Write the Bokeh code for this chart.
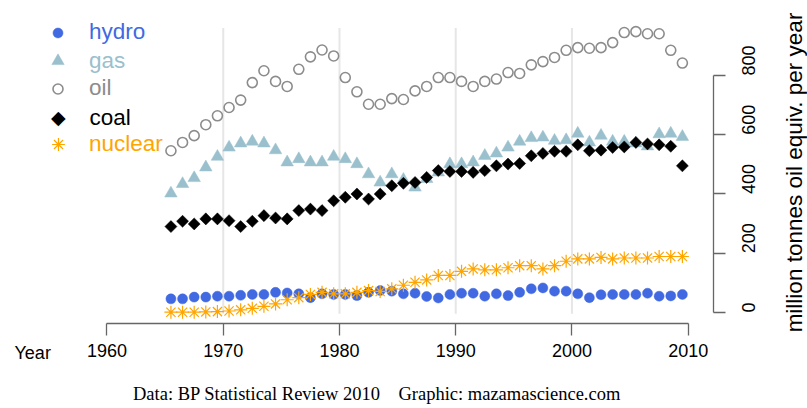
from math import pi
from bokeh.plotting import figure
from bokeh.models import Range1d, FixedTicker, Legend, LegendItem, Label, LinearAxis
from bokeh.embed import file_html
from bokeh.resources import INLINE

years = list(range(1965, 2010))
hydro = [46, 46, 52, 52, 55, 55, 58, 61, 61, 68,
         66, 63, 50, 63, 61, 61, 57, 68, 74, 72,
         63, 65, 54, 49, 61, 65, 65, 55, 63, 57,
         68, 80, 83, 72, 72, 63, 50, 60, 61, 61,
         61, 65, 55, 56, 61]
gas = [402, 434, 454, 490, 526, 557, 571, 577, 571, 548,
       507, 518, 507, 507, 526, 518, 501, 467, 439, 467,
       448, 422, 451, 473, 501, 501, 507, 529, 537, 557,
       577, 589, 591, 580, 582, 604, 574, 597, 577, 577,
       571, 561, 602, 604, 593]
oil = [546, 574, 597, 634, 664, 692, 717, 776, 816, 780,
       763, 821, 863, 886, 866, 793, 745, 703, 703, 722,
       719, 748, 763, 793, 793, 780, 763, 780, 788, 810,
       807, 836, 847, 861, 885, 894, 892, 894, 911, 945,
       948, 941, 941, 885, 842]
coal = [290, 308, 299, 316, 316, 310, 290, 308, 327, 319,
        316, 344, 349, 344, 377, 389, 400, 383, 400, 428,
        436, 439, 456, 479, 476, 476, 473, 479, 495, 501,
        503, 529, 537, 544, 544, 566, 546, 548, 557, 559,
        574, 569, 566, 561, 495]
nuclear = [1, 1, 1, 2, 3, 5, 9, 14, 21, 29,
           43, 50, 61, 68, 63, 63, 68, 74, 71, 80,
           92, 102, 110, 125, 125, 139, 147, 144, 144, 151,
           158, 158, 147, 158, 173, 181, 181, 186, 181, 184,
           184, 184, 189, 189, 189]

x_ticks = [1960, 1970, 1980, 1990, 2000, 2010]
y_ticks = [0, 200, 400, 600, 800]
grid_years = [1970, 1980, 1990, 2000]
series_names = ["hydro", "gas", "oil", "coal", "nuclear"]
colors = {"hydro": "#4169E1", "gas": "#9AC0CD", "oil": "#8C8C8C",
          "coal": "#000000", "nuclear": "#FFA500"}

# points are plotted at mid-year
xs = [y + 0.5 for y in years]

W, H = 807, 408
p = figure(width=W, height=H, output_backend="svg", toolbar_location=None,
           x_range=Range1d(1950.838, 2020.263), y_range=Range1d(-324.05, 1053.16),
           x_axis_location=None, y_axis_location=None,
           min_border_left=0, min_border_right=0, min_border_top=0, min_border_bottom=0)
p.outline_line_color = None
p.background_fill_color = "white"
for g in p.grid:
    g.visible = False
p.xgrid.grid_line_color = None
p.ygrid.grid_line_color = None

# vertical grid lines
p.segment(x0=grid_years, x1=grid_years, y0=[-4] * len(grid_years), y1=[960] * len(grid_years),
          line_color="#E6E6E6", line_width=2)

axis_color = "#666666"
xaxis = LinearAxis(fixed_location=-37.13, ticker=FixedTicker(ticks=x_ticks),
                   bounds=(x_ticks[0], x_ticks[-1]), major_label_standoff=9)
yaxis = LinearAxis(fixed_location=2012.2, ticker=FixedTicker(ticks=y_ticks),
                   bounds=(y_ticks[0], y_ticks[-1]), major_label_standoff=23,
                   major_label_orientation=pi / 2)
for ax in (xaxis, yaxis):
    ax.axis_line_color = axis_color
    ax.axis_line_width = 1.3
    ax.major_tick_line_color = axis_color
    ax.major_tick_line_width = 1.3
    ax.major_tick_out = 12
    ax.major_tick_in = 0
    ax.minor_tick_line_color = None
    ax.major_label_text_font = "Liberation Sans"
    ax.major_label_text_font_size = "18px"
    ax.major_label_text_color = "black"
p.add_layout(xaxis, "below")
p.add_layout(yaxis, "right")

r_hydro = p.scatter(xs, hydro, marker="circle", size=10, fill_color=colors["hydro"],
                    line_color=colors["hydro"], line_width=0.5)
r_gas = p.scatter(xs, gas, marker="triangle", size=12.5, fill_color=colors["gas"],
                  line_color=colors["gas"], line_width=0.5)
r_oil = p.scatter(xs, oil, marker="circle", size=10, fill_color=None,
                  line_color=colors["oil"], line_width=1.6)
r_coal = p.scatter(xs, coal, marker="square", size=8.5, angle=pi / 4,
                   fill_color=colors["coal"], line_color=colors["coal"], line_width=0.5)
r_nuc = p.scatter(xs, nuclear, marker="asterisk", size=13, line_color=colors["nuclear"],
                  line_width=1.2)

renderers = {"hydro": r_hydro, "gas": r_gas, "oil": r_oil, "coal": r_coal, "nuclear": r_nuc}
glyph_boxes = {"hydro": 25, "gas": 31, "oil": 25, "coal": 30, "nuclear": 32}

glyph_cx = 57.7
text_left = 89
row_y = [31.7, 60, 88.3, 116.7, 144]
legend_font = "22.5px"
for name, yc in zip(series_names, row_y):
    if name == "coal":
        # rotated-square key (legend glyphs are drawn unrotated)
        p.add_layout(Label(x=glyph_cx, y=H - yc, x_units="screen", y_units="screen",
                           text="\u25c6", text_font="DejaVu Sans", text_font_size="19px",
                           text_align="center", text_baseline="middle",
                           text_color=colors[name]))
        p.add_layout(Label(x=text_left, y=H - yc, x_units="screen", y_units="screen",
                           text=name, text_font="Liberation Sans", text_font_size=legend_font,
                           text_align="left", text_baseline="middle",
                           text_color=colors[name]))
        continue
    gw = glyph_boxes[name]
    h = max(gw, 26)
    left = glyph_cx - gw / 2
    lg = Legend(items=[LegendItem(label=name, renderers=[renderers[name]])],
                location=(int(round(left)), int(round(H - yc - h / 2))),
                glyph_width=gw, glyph_height=gw, label_height=26,
                label_standoff=int(round(text_left - glyph_cx - gw / 2)),
                padding=0, margin=0, spacing=0,
                border_line_color=None, background_fill_alpha=0,
                label_text_font="Liberation Sans", label_text_font_size=legend_font,
                label_text_color=colors[name])
    p.add_layout(lg)

p.add_layout(Label(x=14, y=H - 352, x_units="screen", y_units="screen", text="Year",
                   text_font="Liberation Sans", text_font_size="18px",
                   text_baseline="middle", text_align="left", text_color="black"))
p.add_layout(Label(x=376.5, y=H - 393, x_units="screen", y_units="screen",
                   text="Data: BP Statistical Review 2010\u00a0\u00a0\u00a0\u00a0Graphic: mazamascience.com",
                   text_font="Liberation Serif", text_font_size="18.5px",
                   text_baseline="middle", text_align="center", text_color="black"))
p.add_layout(Label(x=794, y=H - 172, x_units="screen", y_units="screen",
                   text="million tonnes oil equiv. per year", angle=pi / 2,
                   text_font="Liberation Sans", text_font_size="22.5px",
                   text_baseline="middle", text_align="center", text_color="black"))

open("out.html", "w").write(file_html(p, INLINE))
